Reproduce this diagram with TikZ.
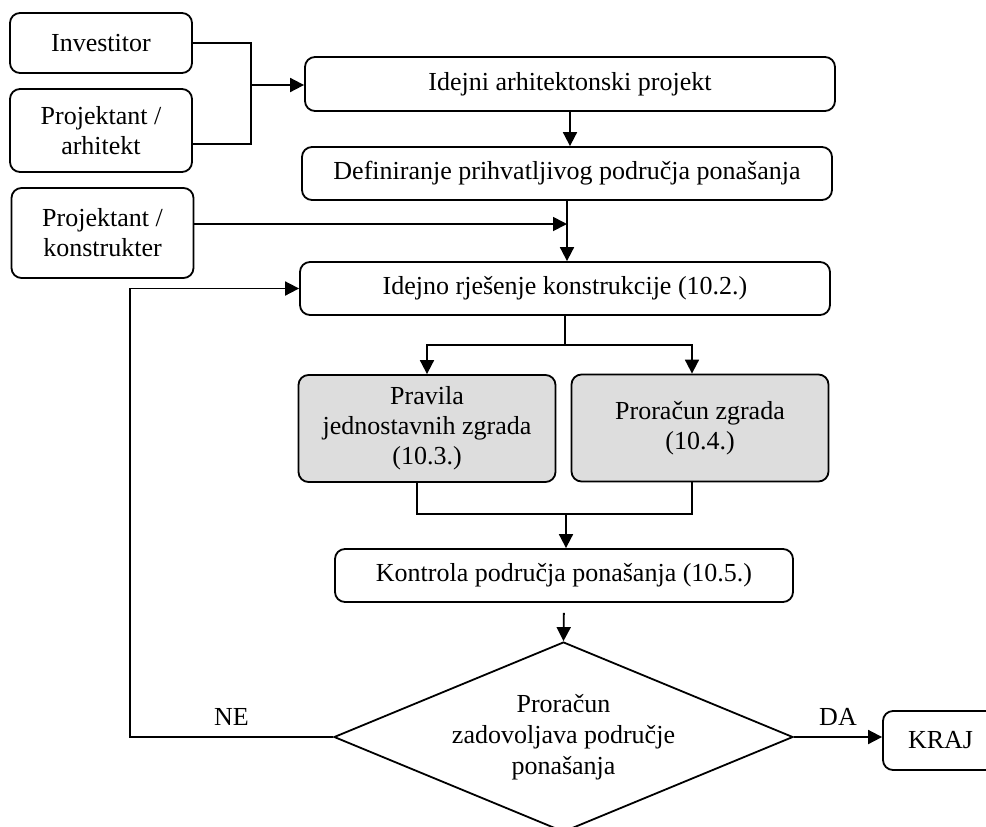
\documentclass[tikz,border=0pt]{standalone}
\usepackage{fontspec}
\setmainfont{Liberation Serif}
\usepackage{xcolor}
\usepackage{tikz}
\usetikzlibrary{arrows.meta,positioning,shapes.geometric}
\definecolor{boxgray}{RGB}{221,221,221}

\begin{document}
\begin{tikzpicture}[x=0.5pt,y=-0.5pt,
  box/.style={draw,rectangle,rounded corners=5pt,line width=0.9pt,align=center,font=\fontsize{13}{15}\selectfont,inner sep=2pt},
  actor/.style={box,minimum width=91pt},
  stepbox/.style={box,minimum width=265pt,minimum height=26.5pt},
  rulebox/.style={box,fill=boxgray,minimum width=128.5pt,minimum height=53.5pt},
  decision/.style={draw,diamond,aspect=2.42,line width=0.9pt,inner sep=0pt,minimum width=229.5pt,minimum height=95pt,align=center,font=\fontsize{13}{15.5}\selectfont},
  lbl/.style={font=\fontsize{13}{15}\selectfont,above=2pt},
  line/.style={line width=0.9pt},
  arr/.style={line,-{Triangle[length=7pt,width=7pt]}}
]
\useasboundingbox (0,0) rectangle (986,826);
\clip (0,0) rectangle (986,826);

% Participants
\node[actor,minimum height=30pt] (inv) at (101,43) {Investitor};
\node[actor,minimum height=41.5pt] (arh) at (101,130.5) {Projektant /\\arhitekt};
\node[actor,minimum height=45pt] (kon) at (102.5,233) {Projektant /\\konstrukter};

% Main column
\node[stepbox,minimum height=27pt] (iap) at (570,84) {Idejni arhitektonski projekt};
\node[stepbox] (def) at (567,173.5) {Definiranje prihvatljivog područja ponašanja};
\node[stepbox] (irk) at (565,288.5) {Idejno rješenje konstrukcije (10.2.)};

% Two ways of design
\node[rulebox] (prav) at (427,428.5) {Pravila\\jednostavnih zgrada\\(10.3.)};
\node[rulebox] (pzg) at (700,428) {Proračun zgrada\\(10.4.)};

% Check and decision
\node[stepbox,minimum width=229pt] (ktr) at (564,575.5) {Kontrola područja ponašanja (10.5.)};
\node[decision] (odl) at (563.5,737) {Proračun\\zadovoljava područje\\ponašanja};
\node[box,minimum width=57.5pt,minimum height=29.5pt] (kraj) at (940.5,740.5) {KRAJ};

% Inputs
\coordinate (jn) at (251,85);
\coordinate (aa) at ([yshift=-6.75pt]arh.east);
\coordinate (ka) at ([yshift=4.5pt]kon.east);
\draw[line] (inv.east) -| (jn);
\draw[line] (aa) -| (jn);
\draw[arr] (jn) -- (jn -| iap.west);
\draw[arr] (iap.south) -- (iap.south |- def.north);
\draw[arr] (def.south) -- (def.south |- irk.north);
\draw[arr] (ka) -- (ka -| def.south);

% Split and merge
\coordinate (sp) at (565,345);
\coordinate (pt) at ([xshift=-4pt]pzg.north);
\draw[line] (irk.south) -- (irk.south |- sp);
\draw[arr] (sp) -| (prav.north);
\draw[arr] (sp) -| (pt);

\coordinate (mg) at (566,514);
\coordinate (pl) at ([xshift=-5pt]prav.south);
\coordinate (pr) at ([xshift=-4pt]pzg.south);
\draw[line] (pl) |- (mg) -| (pr);
\draw[arr] (mg) -- (mg |- ktr.north);
\draw[arr,shorten <=5pt] (ktr.south) -- (odl.north);

% Decision outputs
\coordinate (fb) at (130,737);
\draw[arr] (odl.west) -- node[lbl]{NE} (fb) |- (irk.west);
\draw[arr] (odl.east) -- node[lbl]{DA} (odl.east -| kraj.west);

\end{tikzpicture}
\end{document}
